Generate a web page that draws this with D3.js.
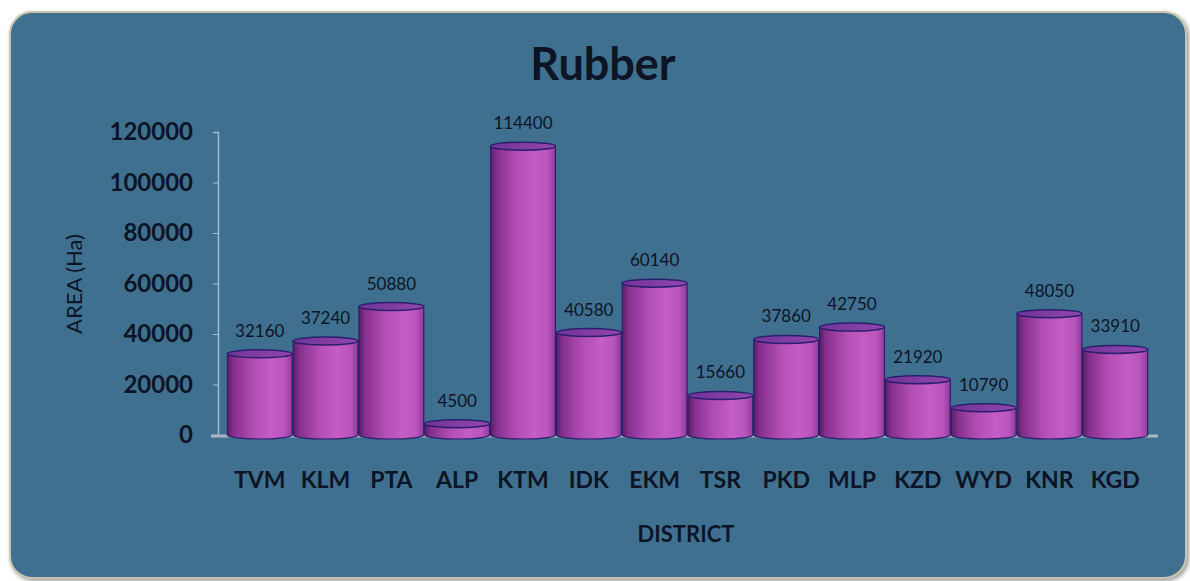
<!DOCTYPE html>
<html>
<head>
<meta charset="utf-8">
<script src="https://cdn.jsdelivr.net/npm/d3@7"></script>
<style>
  body { margin: 0; background: #ffffff; }
  svg { display: block; font-family: Lato, "Open Sans", sans-serif; }
</style>
</head>
<body>
<svg width="1190" height="581"></svg>
<script>
let width = 1190,
    height = 581;

// chart data
const districts = ["TVM", "KLM", "PTA", "ALP", "KTM", "IDK", "EKM", "TSR", "PKD", "MLP", "KZD", "WYD", "KNR", "KGD"];
const areas = [32160, 37240, 50880, 4500, 114400, 40580, 60140, 15660, 37860, 42750, 21920, 10790, 48050, 33910];
const yTicks = [0, 20000, 40000, 60000, 80000, 100000, 120000];

let svg = d3.select("svg");

// gradients for the cylinders and panel
let defs = svg.append("defs");
let barGrad = defs.append("linearGradient").attr("id", "barGrad")
    .attr("x1", "0%").attr("x2", "100%").attr("y1", "0%").attr("y2", "0%");
[
    ["0%", "#5a1e66"],
    ["10%", "#86308e"],
    ["40%", "#b24eb4"],
    ["68%", "#c45dc5"],
    ["88%", "#b955bc"],
    ["100%", "#943a9c"]
].forEach(s => barGrad.append("stop").attr("offset", s[0]).attr("stop-color", s[1]));

let topGrad = defs.append("linearGradient").attr("id", "topGrad")
    .attr("x1", "0%").attr("x2", "100%");
topGrad.append("stop").attr("offset", "0%").attr("stop-color", "#6e3496");
topGrad.append("stop").attr("offset", "100%").attr("stop-color", "#9446ae");

let shadow = defs.append("filter").attr("id", "shadow")
    .attr("x", "-5%").attr("y", "-5%").attr("width", "110%").attr("height", "110%");
shadow.append("feDropShadow").attr("dx", 2).attr("dy", 2).attr("stdDeviation", 2)
    .attr("flood-color", "#555").attr("flood-opacity", 0.6);

// background panel
svg.append("rect")
    .attr("x", 10).attr("y", 12)
    .attr("width", 1176).attr("height", 566)
    .attr("rx", 22).attr("ry", 22)
    .attr("fill", "#40708f")
    .attr("stroke", "#c9c3ad")
    .attr("stroke-width", 2)
    .attr("filter", "url(#shadow)");

let margin = { left: 227, right: 1148, top: 132, bottom: 435 };

let x = d3.scaleBand()
    .domain(districts)
    .range([margin.left, margin.right])
    .paddingInner(0.015)
    .paddingOuter(0.005);

let y = d3.scaleLinear()
    .domain([0, 120000])
    .range([margin.bottom, margin.top]);

// y axis
let yAxis = svg.append("g")
    .attr("transform", `translate(${margin.left - 9},0)`)
    .call(d3.axisLeft(y).tickValues(yTicks).tickSize(5).tickPadding(20).tickFormat(d3.format("d")))
    .attr("font-family", null)
    .attr("font-size", null);
yAxis.select(".domain").attr("stroke", "#a9b9c4").attr("stroke-width", 1.5);
yAxis.selectAll(".tick line").attr("stroke", "#a9b9c4");
yAxis.selectAll(".tick text")
    .attr("fill", "#0c1426")
    .attr("font-size", "24px")
    .attr("font-weight", "bold");

// x axis floor line
svg.append("line")
    .attr("x1", margin.left - 16).attr("x2", margin.right + 10)
    .attr("y1", y(0) + 1).attr("y2", y(0) + 1)
    .attr("stroke", "#a9b9c4").attr("stroke-width", 3);

// cylinders
let ry = 4;
let bars = svg.append("g").selectAll("g")
    .data(districts)
    .enter()
    .append("g");

bars.append("path")
    .attr("d", (d, i) => {
        let x0 = x(d), w = x.bandwidth(), top = y(areas[i]), bot = y(0);
        return `M${x0},${top} L${x0},${bot} A${w / 2},${ry} 0 0 0 ${x0 + w},${bot} L${x0 + w},${top} Z`;
    })
    .attr("fill", "url(#barGrad)")
    .attr("stroke", "#2a1f6e")
    .attr("stroke-width", 1.2);

bars.append("ellipse")
    .attr("cx", d => x(d) + x.bandwidth() / 2)
    .attr("cy", (d, i) => y(areas[i]))
    .attr("rx", x.bandwidth() / 2)
    .attr("ry", ry)
    .attr("fill", "url(#topGrad)")
    .attr("stroke", "#2a1f6e")
    .attr("stroke-width", 1.5);

// value labels
svg.append("g").selectAll("text")
    .data(districts)
    .enter()
    .append("text")
    .attr("x", d => x(d) + x.bandwidth() / 2)
    .attr("y", (d, i) => y(areas[i]) - 17)
    .attr("text-anchor", "middle")
    .attr("fill", "#0c1426")
    .attr("font-size", "17px")
    .text((d, i) => areas[i]);

// category labels
svg.append("g").selectAll("text")
    .data(districts)
    .enter()
    .append("text")
    .attr("x", d => x(d) + x.bandwidth() / 2)
    .attr("y", 488)
    .attr("text-anchor", "middle")
    .attr("fill", "#0c1426")
    .attr("font-size", "23px")
    .attr("font-weight", "bold")
    .text(d => d);

// titles
svg.append("text")
    .attr("x", 603).attr("y", 80)
    .attr("text-anchor", "middle")
    .attr("fill", "#0c1426")
    .attr("font-size", "45px")
    .attr("font-weight", "bold")
    .text("Rubber");

svg.append("text")
    .attr("x", 686).attr("y", 542)
    .attr("text-anchor", "middle")
    .attr("fill", "#0c1426")
    .attr("font-size", "22px")
    .attr("font-weight", "bold")
    .text("DISTRICT");

svg.append("text")
    .attr("transform", "translate(82,284) rotate(-90)")
    .attr("text-anchor", "middle")
    .attr("fill", "#0c1426")
    .attr("font-size", "22px")
    .text("AREA (Ha)");
</script>
</body>
</html>
